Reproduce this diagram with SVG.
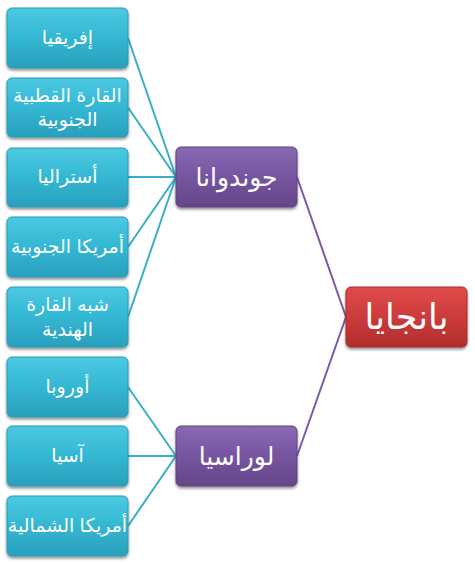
<svg xmlns="http://www.w3.org/2000/svg" width="475" height="563" viewBox="0 0 475 563">
<defs>
<linearGradient id="gTeal" x1="0" y1="0" x2="0" y2="1">
<stop offset="0" stop-color="#4cc9e2"/>
<stop offset="0.5" stop-color="#33b7d3"/>
<stop offset="1" stop-color="#2a9fbc"/>
</linearGradient>
<linearGradient id="gPurple" x1="0" y1="0" x2="0" y2="1">
<stop offset="0" stop-color="#8a68b4"/>
<stop offset="0.5" stop-color="#7655a0"/>
<stop offset="1" stop-color="#644688"/>
</linearGradient>
<linearGradient id="gRed" x1="0" y1="0" x2="0" y2="1">
<stop offset="0" stop-color="#e04b4b"/>
<stop offset="0.5" stop-color="#cc3b3b"/>
<stop offset="1" stop-color="#b02e2e"/>
</linearGradient>
<filter id="sh" x="-10%" y="-10%" width="120%" height="130%">
<feGaussianBlur in="SourceAlpha" stdDeviation="1.5"/>
<feOffset dx="0" dy="2" result="b"/>
<feComponentTransfer><feFuncA type="linear" slope="0.45"/></feComponentTransfer>
<feMerge><feMergeNode/><feMergeNode in="SourceGraphic"/></feMerge>
</filter>
</defs>
<style>
.teal{fill:url(#gTeal);stroke:#2b9ab4;stroke-width:1;filter:url(#sh)}
.purple{fill:url(#gPurple);stroke:#5e4282;stroke-width:1;filter:url(#sh)}
.red{fill:url(#gRed);stroke:#a82a2a;stroke-width:1;filter:url(#sh)}
.t{font-family:"Liberation Sans","DejaVu Sans",sans-serif;fill:#ffffff;text-anchor:middle;direction:rtl}
.s{font-size:19px}
.m{font-size:25px}
.l{font-size:35px}
.ct{stroke:#3aaec8;stroke-width:2;fill:none}
.cp{stroke:#7a5aa6;stroke-width:2;fill:none}
</style>
<g id="connectors">
<line class="ct" x1="128" y1="38" x2="176" y2="177"/>
<line class="ct" x1="128" y1="107.5" x2="176" y2="177"/>
<line class="ct" x1="128" y1="177" x2="176" y2="177"/>
<line class="ct" x1="128" y1="247" x2="176" y2="177"/>
<line class="ct" x1="128" y1="317" x2="176" y2="177"/>
<line class="ct" x1="128" y1="387" x2="176" y2="456"/>
<line class="ct" x1="128" y1="456" x2="176" y2="456"/>
<line class="ct" x1="128" y1="526" x2="176" y2="456"/>
<line class="cp" x1="297" y1="177" x2="346" y2="317"/>
<line class="cp" x1="297" y1="456" x2="346" y2="317"/>
</g>
<g id="africa"><rect class="teal" x="7" y="8" width="121" height="60" rx="5"/><text class="t s" x="67.5" y="44">إفريقيا</text></g>
<g id="antarctica"><rect class="teal" x="7" y="78" width="121" height="59" rx="5"/><text class="t s" x="67.5" y="102">القارة القطبية</text><text class="t s" x="67.5" y="126">الجنوبية</text></g>
<g id="australia"><rect class="teal" x="7" y="148" width="121" height="59" rx="5"/><text class="t s" x="67.5" y="183">أستراليا</text></g>
<g id="southamerica"><rect class="teal" x="7" y="217" width="121" height="60" rx="5"/><text class="t s" x="67.5" y="253">أمريكا الجنوبية</text></g>
<g id="india"><rect class="teal" x="7" y="287" width="121" height="60" rx="5"/><text class="t s" x="67.5" y="311">شبه القارة</text><text class="t s" x="67.5" y="336">الهندية</text></g>
<g id="europe"><rect class="teal" x="7" y="357" width="121" height="60" rx="5"/><text class="t s" x="67.5" y="393">أوروبا</text></g>
<g id="asia"><rect class="teal" x="7" y="426" width="121" height="60" rx="5"/><text class="t s" x="67.5" y="462">آسيا</text></g>
<g id="northamerica"><rect class="teal" x="7" y="496" width="121" height="60" rx="5"/><text class="t s" x="67.5" y="532">أمريكا الشمالية</text></g>
<g id="gondwana"><rect class="purple" x="176" y="147" width="121" height="60" rx="5"/><text class="t m" x="236.5" y="186">جوندوانا</text></g>
<g id="laurasia"><rect class="purple" x="176" y="426" width="121" height="60" rx="5"/><text class="t m" x="236.5" y="465">لوراسيا</text></g>
<g id="pangaea"><rect class="red" x="346" y="287" width="121" height="60" rx="5"/><text class="t l" x="406.5" y="329">بانجايا</text></g>
</svg>
